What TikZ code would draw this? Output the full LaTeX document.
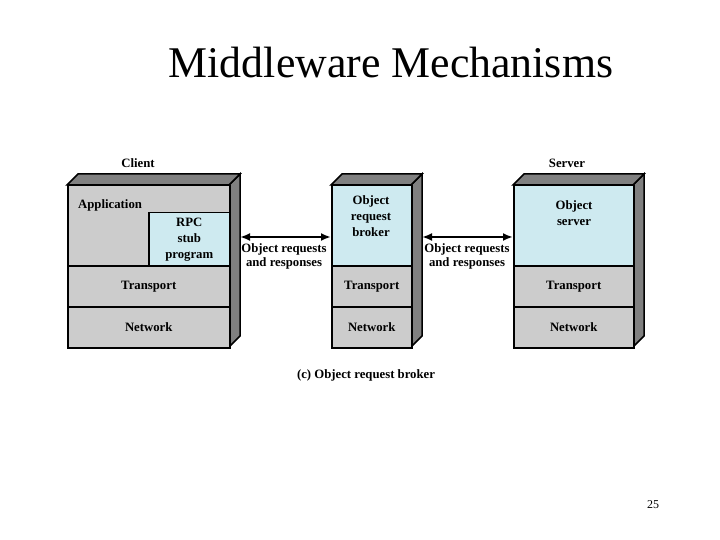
\documentclass[tikz,border=0pt]{standalone}
\usepackage{fontspec}
\setmainfont{Liberation Serif}
\usetikzlibrary{arrows.meta}
\definecolor{lgray}{RGB}{204,204,204}
\definecolor{dgray}{RGB}{128,128,128}
\definecolor{lblue}{RGB}{206,234,240}
\tikzset{
  layer/.style={draw, line width=1.5bp, fill=lgray, inner sep=0pt, anchor=north west,
    font=\bfseries\fontsize{12.8}{16}\selectfont, align=center, text=black},
  face/.style={draw, line width=1.5bp, fill=dgray, line join=miter},
  lbl/.style={font=\bfseries\fontsize{12.8}{15}\selectfont, align=center, inner sep=0pt},
  blbl/.style={font=\bfseries\fontsize{12.8}{16.5}\selectfont, align=center, inner sep=0pt, anchor=north},
  biarrow/.style={{Latex[length=10bp,width=8bp]}-{Latex[length=10bp,width=8bp]}, line width=2bp}
}
\begin{document}
\begin{tikzpicture}[x=1bp,y=-1bp]
\useasboundingbox (0,0) rectangle (720,540);
% title
\node[font=\fontsize{44}{50}\selectfont, anchor=base, inner sep=0pt] (title) at (391,78) {Middleware Mechanisms};
% ---------- Client ----------
\draw[face] (229,185) -- (240,174) -- (240,336) -- (229,347) -- cycle;
\draw[face] (67,185) -- (78,174) -- (240,174) -- (229,185) -- cycle;
\node[layer, minimum width=162bp, minimum height=80bp] (capp) at (67,185) {};
\node[lbl, anchor=north west] (capplbl) at (78,199) {Application};
\node[layer, fill=lblue, minimum width=81bp, minimum height=53bp] (rpc) at (148,212) {RPC\\stub\\program};
\node[layer, minimum width=162bp, minimum height=41bp] (ctr) at (67,265) {Transport};
\node[layer, minimum width=162bp, minimum height=41bp] (cnet) at (67,306) {Network};
\node[lbl] (client) at (138,163) {Client};
% ---------- ORB ----------
\draw[face] (411,185) -- (422,174) -- (422,336) -- (411,347) -- cycle;
\draw[face] (331,185) -- (342,174) -- (422,174) -- (411,185) -- cycle;
\node[layer, fill=lblue, minimum width=80bp, minimum height=80bp] (orb) at (331,185) {};
\node[blbl] (orbl) at (371,195) {Object\\request\\broker};
\node[layer, minimum width=80bp, minimum height=41bp] (otr) at (331,265) {Transport};
\node[layer, minimum width=80bp, minimum height=41bp] (onet) at (331,306) {Network};
% ---------- Server ----------
\draw[face] (633,185) -- (644,174) -- (644,336) -- (633,347) -- cycle;
\draw[face] (513,185) -- (524,174) -- (644,174) -- (633,185) -- cycle;
\node[layer, fill=lblue, minimum width=120bp, minimum height=80bp] (osrv) at (513,185) {};
\node[blbl] (osrvl) at (574,200) {Object\\server};
\node[layer, minimum width=120bp, minimum height=41bp] (str) at (513,265) {Transport};
\node[layer, minimum width=120bp, minimum height=41bp] (snet) at (513,306) {Network};
\node[lbl] (server) at (567,163) {Server};
% ---------- arrows ----------
\coordinate (cside) at (240,237);
\coordinate (oside) at (422,237);
\draw[biarrow] (cside) -- (orb.west |- cside);
\draw[biarrow] (oside) -- (osrv.west |- oside);
\node[lbl, anchor=north] (l1) at (284,243) {Object requests\\and responses};
\node[lbl, anchor=north] (l2) at (467,243) {Object requests\\and responses};
% caption
\node[lbl] (cap) at (366,375) {(c) Object request broker};
% page number
\node[font=\fontsize{12}{14}\selectfont, inner sep=0pt] (pg) at (653,505) {25};
\end{tikzpicture}
\end{document}
